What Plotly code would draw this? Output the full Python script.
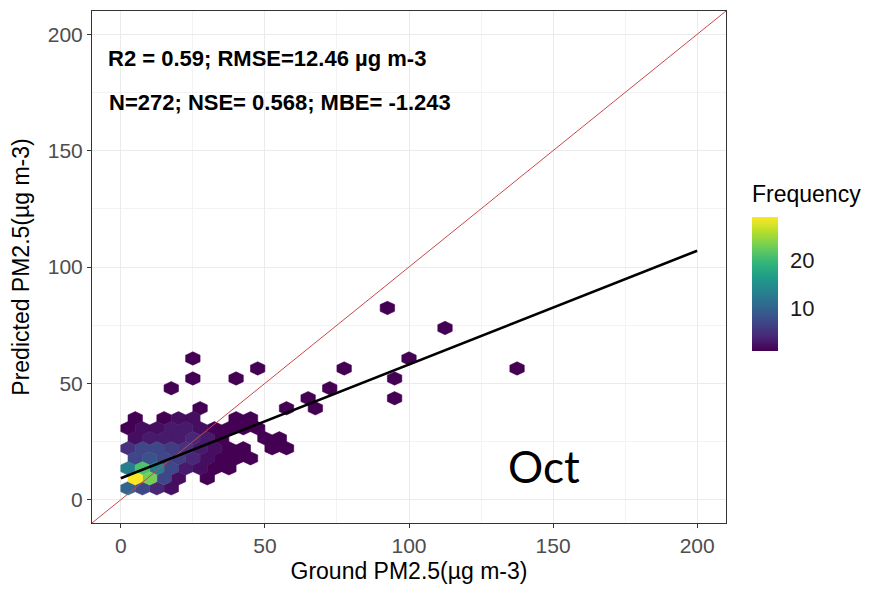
import plotly.graph_objects as go
from plotly.colors import sample_colorscale

# ---- hexbin cells (centre x, centre y, count) ----
hex_x = [
    # row y=4.9
    2.5, 7.5, 12.5, 17.5,
    # row y=9.2
    5, 10, 15, 20, 30,
    # row y=13.5
    2.5, 7.5, 12.5, 17.5, 22.5, 27.5, 32.5, 37.5,
    # row y=17.8
    5, 10, 15, 20, 25, 30, 35, 40, 45,
    # row y=22.1
    2.5, 7.5, 12.5, 17.5, 22.5, 27.5, 32.5, 37.5, 42.5, 52.5, 57.5,
    # row y=26.4
    5, 10, 15, 20, 25, 30, 35, 50, 55,
    # row y=30.7
    2.5, 7.5, 12.5, 17.5, 22.5, 27.5, 32.5, 37.5, 42.5, 47.5,
    # row y=35.0
    5, 15, 20, 25, 40, 45,
    # upper sparse cells
    27.5, 57.5, 67.5, 65, 95, 17.5, 72.5, 25, 40, 95, 47.5, 77.5, 137.5,
    25, 100, 112.5, 92.5,
]
hex_y = [
    4.9, 4.9, 4.9, 4.9,
    9.2, 9.2, 9.2, 9.2, 9.2,
    13.5, 13.5, 13.5, 13.5, 13.5, 13.5, 13.5, 13.5,
    17.8, 17.8, 17.8, 17.8, 17.8, 17.8, 17.8, 17.8, 17.8,
    22.1, 22.1, 22.1, 22.1, 22.1, 22.1, 22.1, 22.1, 22.1, 22.1, 22.1,
    26.4, 26.4, 26.4, 26.4, 26.4, 26.4, 26.4, 26.4, 26.4,
    30.7, 30.7, 30.7, 30.7, 30.7, 30.7, 30.7, 30.7, 30.7, 30.7,
    35.0, 35.0, 35.0, 35.0, 35.0, 35.0,
    39.3, 39.3, 39.3, 43.6, 43.6, 47.9, 47.9, 52.1, 52.1, 52.1, 56.4, 56.4, 56.4,
    60.7, 60.7, 73.8, 82.4,
]
hex_count = [
    10, 7, 4, 2,
    29, 23, 7, 2, 1,
    13, 21, 13, 7, 3, 2, 1, 1,
    7, 8, 7, 6, 4, 2, 1, 1, 1,
    5, 7, 7, 6, 5, 3, 2, 1, 1, 1, 1,
    2, 3, 3, 3, 4, 3, 1, 1, 1,
    1, 2, 2, 3, 3, 2, 1, 1, 1, 1,
    1, 1, 2, 2, 1, 1,
    1, 1, 1, 1, 1, 1, 1, 1, 1, 1, 1, 1, 1,
    1, 1, 1, 1,
]

# hexagon geometry (data units): horizontal spacing and row spacing
hex_dx = 5.0
hex_row = 4.3

# regression line and 1:1 line
fit_intercept = 9.2
fit_slope = 0.489
fit_x = [0, 200]
one_to_one = [-10, 210]

stats_line1 = "R2 = 0.59; RMSE=12.46 µg m-3"
stats_line2 = "N=272; NSE= 0.568; MBE= -1.243"
month_label = "Oct"
legend_title = "Frequency"

cmin, cmax = 1, 29
FONT = "Liberation Sans"

fig = go.Figure()

hw = hex_dx / 2
R = hex_row / 1.5
offs = [(0, R), (hw, R / 2), (hw, -R / 2), (0, -R), (-hw, -R / 2), (-hw, R / 2), (0, R)]

for c in sorted(set(hex_count)):
    xs, ys = [], []
    for x, y, n in zip(hex_x, hex_y, hex_count):
        if n != c:
            continue
        for ox, oy in offs:
            xs.append(x + ox)
            ys.append(y + oy)
        xs.append(None)
        ys.append(None)
    col = sample_colorscale("Viridis", [(c - cmin) / (cmax - cmin)])[0]
    fig.add_trace(go.Scatter(x=xs, y=ys, mode="lines", fill="toself",
                             fillcolor=col, line=dict(color=col, width=0.6),
                             hoverinfo="skip", showlegend=False))

# 1:1 line
fig.add_trace(go.Scatter(x=one_to_one, y=one_to_one, mode="lines",
                         line=dict(color="#c8474a", width=1),
                         hoverinfo="skip", showlegend=False))
# regression line
fig.add_trace(go.Scatter(x=fit_x, y=[fit_intercept + fit_slope * v for v in fit_x],
                         mode="lines", line=dict(color="black", width=2.6),
                         hoverinfo="skip", showlegend=False))

# colour bar (title drawn as annotation)
fig.add_trace(go.Scatter(
    x=[None], y=[None], mode="markers", showlegend=False, hoverinfo="skip",
    marker=dict(color=[cmin], cmin=cmin, cmax=cmax, colorscale="Viridis", showscale=True,
                colorbar=dict(
                    xref="container", x=752 / 872, xanchor="left",
                    yref="paper", y=(525 - 352) / 515, yanchor="bottom",
                    len=134, lenmode="pixels", thickness=26, outlinewidth=0,
                    tickvals=[10, 20], ticks="outside", ticklen=8, tickcolor="white",
                    tickfont=dict(family=FONT, size=22, color="#1a1a1a"),
                    ypad=0, xpad=0,
                ))))

axis_common = dict(
    range=[-10, 210], tickvals=[0, 50, 100, 150, 200],
    showgrid=True, gridcolor="#ebebeb", gridwidth=1,
    minor=dict(dtick=25, tick0=0, showgrid=True, gridcolor="#f3f3f3", gridwidth=0.7),
    zeroline=False, showline=True, mirror=True, linecolor="#333333", linewidth=1,
    ticks="outside", ticklen=4, tickcolor="#333333",
    tickfont=dict(family=FONT, size=21, color="#4d4d4d"),
)

fig.update_layout(
    width=872, height=589,
    margin=dict(l=92, r=146, t=10, b=64),
    plot_bgcolor="white", paper_bgcolor="white",
    xaxis=dict(axis_common, title=dict(text="Ground PM2.5(µg m-3)", standoff=6,
               font=dict(family=FONT, size=23, color="black"))),
    yaxis=dict(axis_common, title=dict(text="Predicted PM2.5(µg m-3)", standoff=11,
               font=dict(family=FONT, size=23, color="black"))),
    annotations=[
        dict(x=-5.2, y=189.7, xref="x", yref="y", text=stats_line1, showarrow=False,
             xanchor="left", yanchor="middle",
             font=dict(family=FONT, size=22, color="black", weight="bold")),
        dict(x=-4.9, y=170.9, xref="x", yref="y", text=stats_line2, showarrow=False,
             xanchor="left", yanchor="middle",
             font=dict(family=FONT, size=22, color="black", weight="bold")),
        dict(x=147, y=14.5, xref="x", yref="y", text=month_label, showarrow=False,
             xanchor="center", yanchor="middle",
             font=dict(family="Lato", size=44, color="black")),
        dict(x=(750 - 92) / 634, y=(525 - 194) / 515, xref="paper", yref="paper",
             text=legend_title, showarrow=False, xanchor="left", yanchor="middle",
             font=dict(family=FONT, size=23, color="black")),
    ],
)

fig.write_html("out.html")
